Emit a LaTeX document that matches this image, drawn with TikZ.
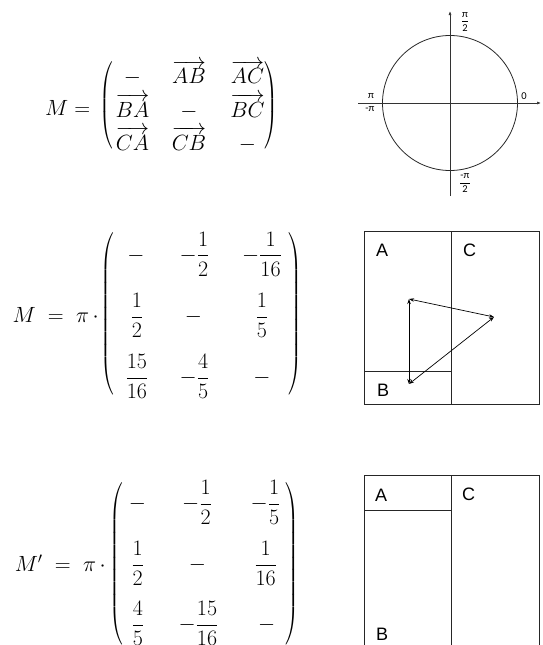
\RequirePackage{fix-cm}
\documentclass[tikz,border=0pt]{standalone}
\usepackage{fontspec}
\usepackage{amsmath}
\usepackage{graphicx}
\usetikzlibrary{arrows.meta}
\newfontfamily\carl{Carlito}
\newfontfamily\arialf{Liberation Sans}
\newcommand\lpar[1]{\scalebox{0.75}[1]{$\left(\vrule height #1 depth #1 width 0pt\right.$}}
\newcommand\rpar[1]{\scalebox{0.75}[1]{$\left.\vrule height #1 depth #1 width 0pt\right)$}}
\begin{document}
\begin{tikzpicture}[x=1pt,y=-1pt,
  mth/.style={font=\fontsize{22}{26}\selectfont, inner sep=0pt, anchor=base},
  lhs/.style={font=\fontsize{22}{26}\selectfont, inner sep=0pt, anchor=base west},
  rhs/.style={font=\fontsize{22}{26}\selectfont, inner sep=0pt, anchor=base east},
  par/.style={font=\fontsize{22}{26}\selectfont, inner sep=0pt, anchor=center},
  lbl/.style={font=\arialf\fontsize{18}{20}\selectfont, inner sep=0pt, anchor=base west},
  axl/.style={font=\carl\fontsize{10.5}{12}\selectfont, inner sep=0pt},
  ln/.style={line width=0.8pt, draw=black!85},
  dbl/.style={line width=0.7pt, {Stealth[length=5pt,width=3.5pt]}-{Stealth[length=5pt,width=3.5pt]}},
  axis/.style={line width=0.7pt, draw=black!80, -{Latex[length=4pt,width=3pt]}}]
\useasboundingbox (0,0) rectangle (542,645);

% ---------- matrix 1
\node[lhs] (m1l) at (45,115) {$M=$};
\node[par] (m1p) at (107,106.5) {\lpar{40pt}};
\node[par] (m1q) at (271,106.5) {\rpar{40pt}};
\node[mth] (a11) at (132.5,83.5) {$-$};
\node[mth] (a12) at (189,83.5) {$\overrightarrow{AB}$};
\node[mth] (a13) at (247.5,83.5) {$\overrightarrow{AC}$};
\node[mth] (a21) at (132.5,117) {$\overrightarrow{BA}$};
\node[mth] (a22) at (189,117) {$-$};
\node[mth] (a23) at (247.5,117) {$\overrightarrow{BC}$};
\node[mth] (a31) at (132.5,150) {$\overrightarrow{CA}$};
\node[mth] (a32) at (189,150) {$\overrightarrow{CB}$};
\node[mth] (a33) at (247.5,150) {$-$};

% ---------- matrix 2
\node[rhs] (m2l) at (99,322.5) {$M\mskip5mu=\mskip5mu\pi\mskip3mu\cdot$};
\node[par] (m2p) at (107.5,314) {\lpar{76pt}};
\node[par] (m2q) at (295,314) {\rpar{76pt}};
\node[mth] (b11) at (136,261) {$-$};
\node[mth] (b12) at (194.5,261) {$-\dfrac{1}{2}$};
\node[mth] (b13) at (262,261) {$-\dfrac{1}{16}$};
\node[mth] (b21) at (137,322.5) {$\dfrac{1}{2}$};
\node[mth] (b22) at (193.5,322.5) {$-$};
\node[mth] (b23) at (262,322.5) {$\dfrac{1}{5}$};
\node[mth] (b31) at (137,383.5) {$\dfrac{15}{16}$};
\node[mth] (b32) at (194.5,383.5) {$-\dfrac{4}{5}$};
\node[mth] (b33) at (262,383.5) {$-$};

% ---------- matrix 3
\node[rhs] (m3l) at (106,571) {$M'\mskip5mu=\mskip5mu\pi\mskip3mu\cdot$};
\node[par] (m3p) at (116.5,564) {\lpar{76pt}};
\node[par] (m3q) at (292,564) {\rpar{76pt}};
\node[mth] (c11) at (137.5,509.5) {$-$};
\node[mth] (c12) at (197,509.5) {$-\dfrac{1}{2}$};
\node[mth] (c13) at (265.5,509.5) {$-\dfrac{1}{5}$};
\node[mth] (c21) at (137.7,570.5) {$\dfrac{1}{2}$};
\node[mth] (c22) at (197.5,570.5) {$-$};
\node[mth] (c23) at (265.7,570.5) {$\dfrac{1}{16}$};
\node[mth] (c31) at (138,630.5) {$\dfrac{4}{5}$};
\node[mth] (c32) at (198.5,630.5) {$-\dfrac{15}{16}$};
\node[mth] (c33) at (266.7,630.5) {$-$};

% ---------- unit circle
\coordinate (o) at (450,103);
\coordinate (vb) at (450,196);
\coordinate (vt) at (450,11);
\coordinate (hl) at (358,103);
\coordinate (hr) at (541,103);
\draw[ln] (o) circle (67.5);
\draw[axis] (vb) -- (vt);
\draw[axis] (hl) -- (hr);
\node[axl, anchor=base] (lpi2) at (465,24.3) {$\dfrac{\text{π}}{\text{2}}$};
\node[axl, anchor=base] (lmpi2) at (465,185.6) {$\dfrac{\text{-π}}{\text{2}}$};
\node[axl] (lpi) at (371,96) {π};
\node[axl] (lmpi) at (370,109.5) {-π};
\node[axl] (lzero) at (524,96) {0};

% ---------- box 1
\draw[ln] (364,231) rectangle (539,404);
\draw[ln] (451.5,231) -- (451.5,404);
\draw[ln] (364,371) -- (451.5,371);
\node[lbl] (A1) at (376,256) {A};
\node[lbl] (C1) at (463,256) {C};
\node[lbl] (B1) at (377,396) {B};
\coordinate (p1) at (409,299);
\coordinate (p2) at (494,317);
\coordinate (p3) at (409,384);
\draw[dbl] (p1) -- (p2);
\draw[dbl] (p2) -- (p3);
\draw[dbl] (p1) -- (p3);

% ---------- box 2
\draw[ln] (364,700) -- (364,475) -- (539,475) -- (539,700);
\draw[ln] (451.5,475) -- (451.5,700);
\draw[ln] (364,510) -- (451.5,510);
\node[lbl] (A2) at (375,501) {A};
\node[lbl] (C2) at (462,500) {C};
\node[lbl] (B2) at (376,640) {B};
\end{tikzpicture}
\end{document}
